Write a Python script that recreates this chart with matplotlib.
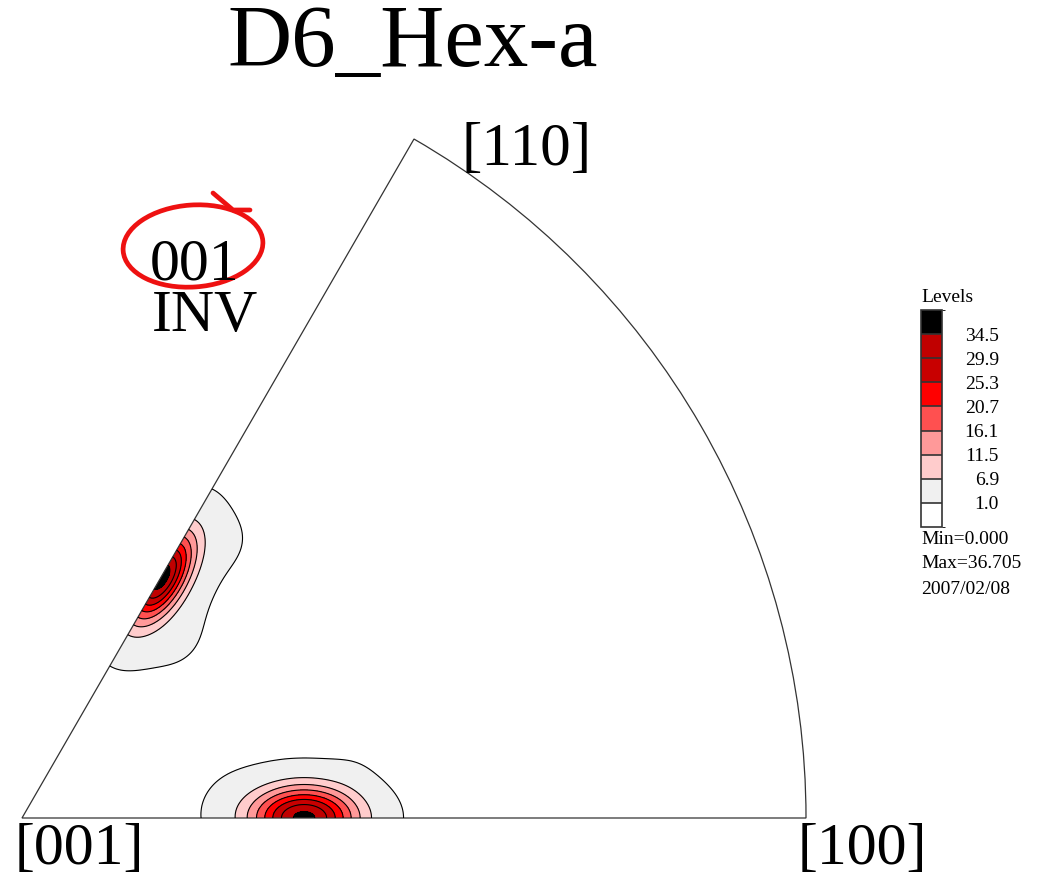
import matplotlib
matplotlib.use("Agg")
import numpy as np
import matplotlib.pyplot as plt
from matplotlib.patches import Wedge, Ellipse
from matplotlib.colors import ListedColormap, BoundaryNorm
from matplotlib.cm import ScalarMappable

# contour levels and their fill colours (lowest band first)
level_values = [1.0, 6.9, 11.5, 16.1, 20.7, 25.3, 29.9, 34.5]
level_colors = ["#FFFFFF", "#F0F0F0", "#FFCCCC", "#FF9999", "#FF5050",
                "#FF0000", "#C80000", "#C00000", "#000000"]
value_min = 0.000
value_max = 36.705
date_text = "2007/02/08"

# intensity peaks (radius in units of the sector, angle in deg)
peak_r = [0.355, 0.350, 0.360, 0.350]
peak_angle = [60.0, 60.0, 0.0, 0.0]
peak_amp = [34.5, 2.6, 35.0, 1.0]
peak_sig_along = [0.044, 0.072, 0.047, 0.060]
peak_sig_perp = [0.021, 0.045, 0.028, 0.040]

# small lumps that make the outer contour wavy
lump_r = [0.440, 0.300, 0.270, 0.425]
lump_angle = [54.0, 49.0, 5.0, 7.5]
lump_amp = [0.8, 0.8, 0.6, 0.5]
lump_sig = [0.032, 0.035, 0.030, 0.022]

SCALE = 784.0
OX, OY = 22.0, 818.0


def px(x, y):
    # pixel position in the picture -> data coordinates
    return (x - OX) / SCALE, (OY - y) / SCALE


fig = plt.figure(figsize=(10.37, 8.77), dpi=100)
ax = fig.add_axes([0, 0, 1, 1])
ax.set_xlim(-OX / SCALE, (1037 - OX) / SCALE)
ax.set_ylim(-(877 - OY) / SCALE, OY / SCALE)
ax.axis("off")

# density field inside the 60 degree sector
u = np.linspace(-0.01, 1.01, 420)
v = np.linspace(-0.01, 0.90, 380)
U, V = np.meshgrid(u, v)
Z = np.zeros_like(U)
for r, ang, amp, sa, sp in zip(peak_r, peak_angle, peak_amp, peak_sig_along, peak_sig_perp):
    t = np.radians(ang)
    cx, cy = r * np.cos(t), r * np.sin(t)
    da = (U - cx) * np.cos(t) + (V - cy) * np.sin(t)
    dp = -(U - cx) * np.sin(t) + (V - cy) * np.cos(t)
    Z += amp * np.exp(-0.5 * (da / sa) ** 2 - 0.5 * (dp / sp) ** 2)
for r, ang, amp, s in zip(lump_r, lump_angle, lump_amp, lump_sig):
    t = np.radians(ang)
    cx, cy = r * np.cos(t), r * np.sin(t)
    Z += amp * np.exp(-0.5 * ((U - cx) ** 2 + (V - cy) ** 2) / s ** 2)

cmap = ListedColormap(level_colors)
fill_levels = [-1.0] + level_values + [100.0]
clip = Wedge((0, 0), 1.0, 0, 60, transform=ax.transData)
cf = ax.contourf(U, V, Z, levels=fill_levels, colors=level_colors)
cf.set_clip_path(clip)
cl = ax.contour(U, V, Z, levels=level_values, colors="black", linewidths=0.8)
cl.set_clip_path(clip)

ax.add_patch(Wedge((0, 0), 1.0, 0, 60, fill=False, ec="#333333", lw=0.9))

serif = "Liberation Serif"
ax.text(*px(413, 66), "D6_Hex-a", ha="center", va="baseline", fontsize=64, family=serif)
ax.text(*px(462, 165), "[110]", ha="left", va="baseline", fontsize=44, family=serif)
ax.text(*px(15, 864), "[001]", ha="left", va="baseline", fontsize=43, family=serif)
ax.text(*px(798, 864), "[100]", ha="left", va="baseline", fontsize=43, family=serif)
ax.text(*px(150, 280), "001", ha="left", va="baseline", fontsize=43, family=serif)
ax.text(*px(152, 331), "INV", ha="left", va="baseline", fontsize=43, family=serif)

# red hand drawn mark around "001"
ec_x, ec_y = px(193, 246)
ax.add_patch(Ellipse((ec_x, ec_y), 140 / SCALE, 82 / SCALE, angle=4,
                     fill=False, ec="#EE1111", lw=3.4))
tx, ty = zip(px(213, 193), px(233, 210), px(250, 210))
ax.plot(tx, ty, color="#EE1111", lw=3.4, solid_capstyle="round")

# legend bar
cax = fig.add_axes([921 / 1037, (877 - 527) / 877, 21 / 1037, 217 / 877])
bounds = [value_min] + level_values + [value_max]
norm = BoundaryNorm(bounds, cmap.N)
cb = fig.colorbar(ScalarMappable(norm=norm, cmap=cmap), cax=cax,
                  spacing="uniform", drawedges=True, ticks=level_values)
cb.outline.set_edgecolor("#333333")
cb.outline.set_linewidth(1.2)
cb.dividers.set_color("#333333")
cb.dividers.set_linewidth(1.2)
cax.tick_params(length=0, pad=41)
cax.set_yticklabels(["%.1f" % x for x in level_values], family=serif, fontsize=14)
for t in cax.get_yticklabels():
    t.set_horizontalalignment("right")

fig.text(921 / 1037, 1 - 297 / 877, "Levels", ha="left", va="center", fontsize=14, family=serif)
fig.text(921 / 1037, 1 - 540 / 877, "Min=%.3f" % value_min, ha="left", va="center", fontsize=14, family=serif)
fig.text(921 / 1037, 1 - 564 / 877, "Max=%.3f" % value_max, ha="left", va="center", fontsize=14, family=serif)
fig.text(921 / 1037, 1 - 589 / 877, date_text, ha="left", va="center", fontsize=14, family=serif)

fig.savefig("out.png", dpi=100)
